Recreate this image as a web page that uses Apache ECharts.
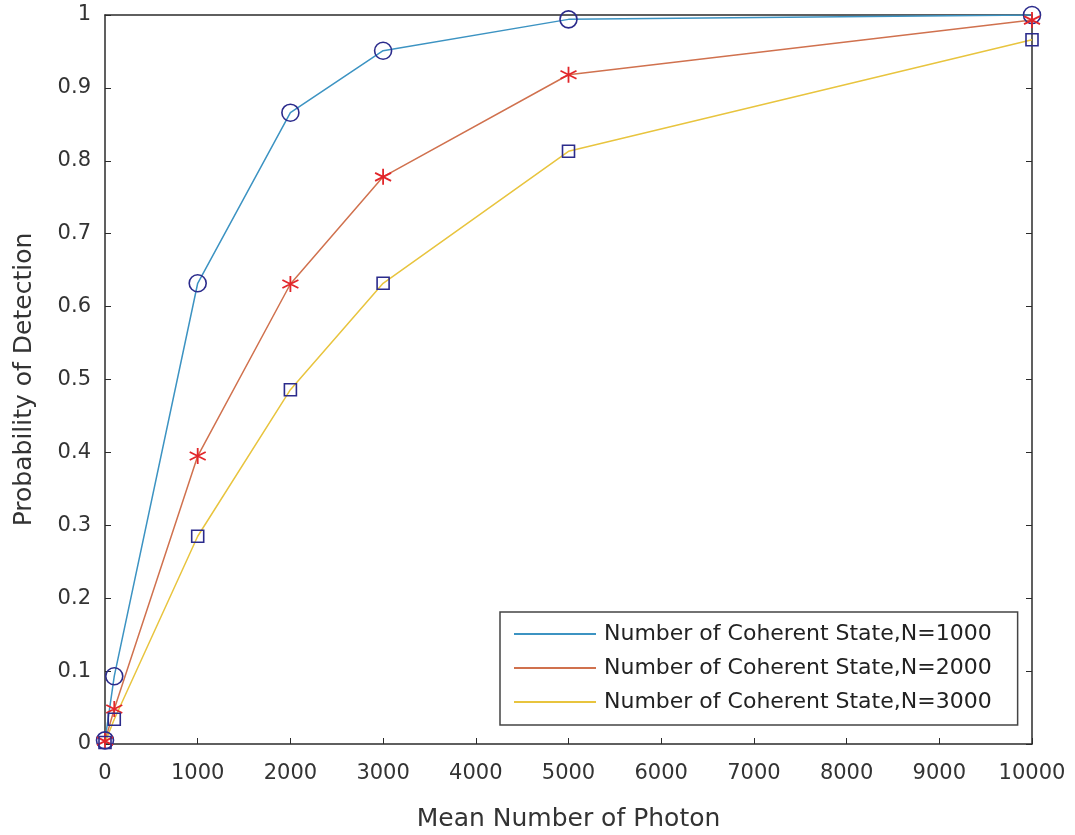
<!DOCTYPE html>
<html>
<head>
<meta charset="utf-8">
<script src="https://cdn.jsdelivr.net/npm/echarts@6/dist/echarts.min.js"></script>
<style>
  html, body { margin: 0; padding: 0; background: #fff; }
  #chart { width: 1075px; height: 835px; }
</style>
</head>
<body>
<div id="chart"></div>
<script>
// mean number of photons (x) and detection probability per N
const photons = [0, 100, 1000, 2000, 3000, 5000, 10000];
const probN1000 = [0.005, 0.093, 0.632, 0.866, 0.951, 0.994, 1.0];
const probN2000 = [0.004, 0.048, 0.395, 0.631, 0.778, 0.918, 0.993];
const probN3000 = [0.002, 0.034, 0.285, 0.486, 0.632, 0.813, 0.966];
const seriesNames = [
  'Number of Coherent State,N=1000',
  'Number of Coherent State,N=2000',
  'Number of Coherent State,N=3000',
];
const xTicks = [0, 10000, 1000];
const yTicks = [0, 1, 0.1];

const lineColors = ['#3c93c2', '#d0714e', '#e8c43e'];
const markerBlue = '#2b2b8c';
const markerRed = '#e2262a';
const asterisk = 'path://M0,-1L0,1M-0.87,-0.5L0.87,0.5M-0.87,0.5L0.87,-0.5';

const pairs = ys => photons.map((x, i) => [x, ys[i]]);
const allProbs = [probN1000, probN2000, probN3000];

const chart = echarts.init(document.getElementById('chart'));

const axisColor = '#2b2b2b';
const font = 'DejaVu Sans, sans-serif';

function baseX(pos, labels) {
  return {
    type: 'value', position: pos, min: xTicks[0], max: xTicks[1], interval: xTicks[2],
    axisLine: { show: true, onZero: false, lineStyle: { color: axisColor, width: 1.5 } },
    axisTick: { show: labels, inside: true, length: 6, lineStyle: { color: axisColor } },
    axisLabel: { show: labels, color: '#333', fontSize: 21, fontFamily: font, margin: 19,
                 formatter: v => String(v) },
    splitLine: { show: false },
  };
}
function baseY(pos, labels) {
  return {
    type: 'value', position: pos, min: yTicks[0], max: yTicks[1], interval: yTicks[2],
    axisLine: { show: true, onZero: false, lineStyle: { color: axisColor, width: 1.5 } },
    axisTick: { show: true, inside: true, length: 6, lineStyle: { color: axisColor } },
    axisLabel: { show: labels, color: '#333', fontSize: 21, fontFamily: font, margin: 14 },
    splitLine: { show: false },
  };
}

const xMain = baseX('bottom', true);
xMain.name = 'Mean Number of Photon';
xMain.nameLocation = 'middle';
xMain.nameGap = 63;
xMain.nameTextStyle = { color: '#333', fontSize: 25, fontFamily: font };
const yMain = baseY('left', true);
yMain.name = 'Probability of Detection';
yMain.nameLocation = 'middle';
yMain.nameGap = 68;
yMain.nameTextStyle = { color: '#333', fontSize: 25, fontFamily: font };

const lineSeries = allProbs.map((ys, i) => ({
  name: seriesNames[i],
  type: 'line',
  data: pairs(ys),
  symbol: 'none',
  z: 2,
  color: lineColors[i],
  lineStyle: { color: lineColors[i], width: 1.5 },
}));

const markerSeries = [
  { symbol: 'circle', symbolSize: 17, border: markerBlue, width: 1.6 },
  { symbol: asterisk, symbolSize: 16, border: markerRed, width: 1.8 },
  { symbol: 'rect', symbolSize: 12, border: markerBlue, width: 1.6 },
].map((m, i) => ({
  name: 'markers' + i,
  type: 'scatter',
  data: pairs(allProbs[i]),
  symbol: m.symbol,
  symbolSize: m.symbolSize,
  z: 3,
  itemStyle: { color: 'rgba(0,0,0,0)', borderColor: m.border, borderWidth: m.width, opacity: 1 },
}));

chart.setOption({
  animation: false,
  backgroundColor: '#fff',
  grid: { left: 105, right: 43, top: 15, bottom: 91, containLabel: false, outerBoundsMode: 'none' },
  xAxis: [xMain, baseX('top', false)],
  yAxis: [yMain, baseY('right', false)],
  legend: {
    data: seriesNames,
    icon: 'rect',
    orient: 'vertical',
    left: 500,
    top: 612,
    itemWidth: 82,
    itemHeight: 2,
    itemGap: 12,
    padding: [11, 26, 12, 14],
    borderColor: '#444',
    borderWidth: 1.5,
    backgroundColor: '#fff',
    textStyle: { color: '#222', fontSize: 22, fontFamily: font, padding: [0, 0, 0, 3] },
  },
  series: [...lineSeries, ...markerSeries],
});
</script>
</body>
</html>
